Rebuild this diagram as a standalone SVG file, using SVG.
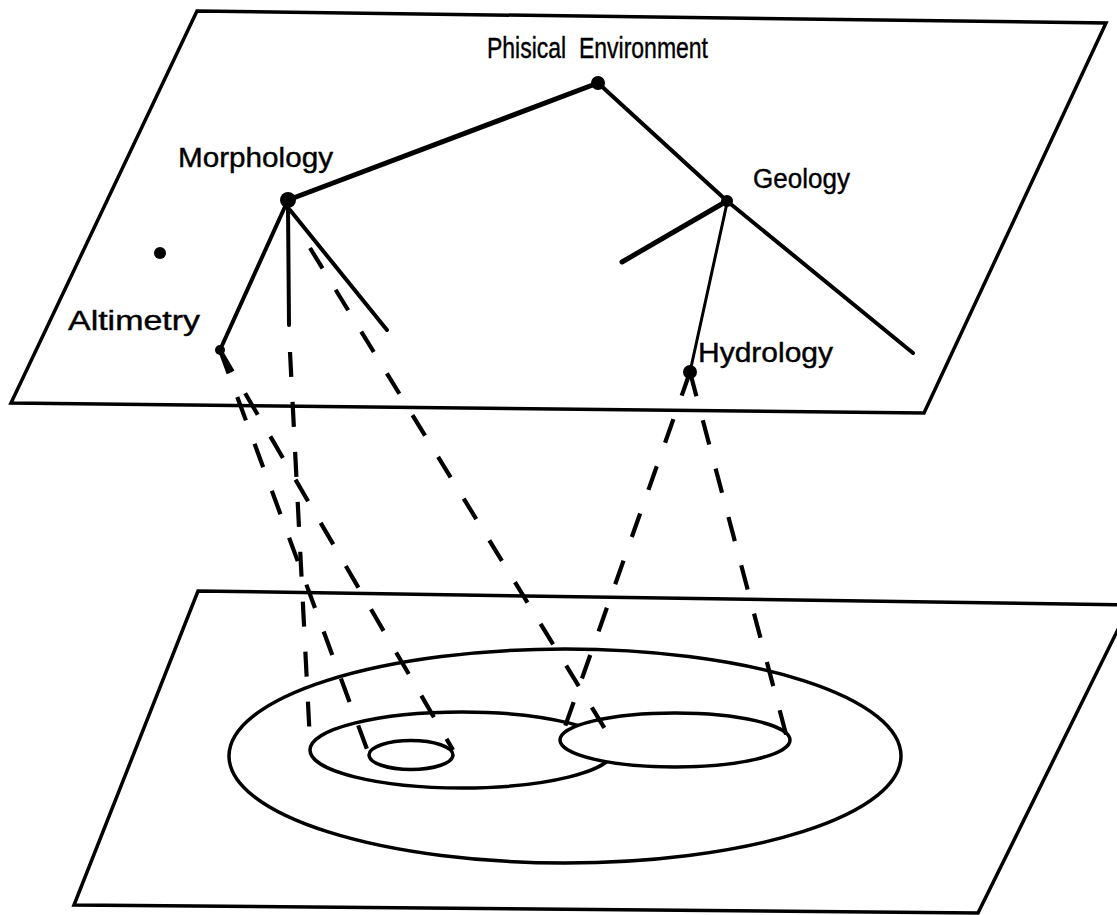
<svg xmlns="http://www.w3.org/2000/svg" width="1117" height="915" viewBox="0 0 1117 915">
<style>
.plane{fill:none;stroke:#000;stroke-width:3.5;stroke-linejoin:miter}
.ell{fill:none;stroke:#000;stroke-width:3.5}
.edge{fill:none;stroke:#000;stroke-width:4;stroke-linecap:round;stroke-linejoin:round}
.dash{fill:none;stroke:#000;stroke-width:4.2;stroke-dasharray:25 25}
.lbl{font-family:"Liberation Sans",Arial,Helvetica,sans-serif;font-size:27px;fill:#000;stroke:#000;stroke-width:0.4}
.dot{fill:#000}
</style>
<rect width="1117" height="915" fill="#fff"/>
<g id="top-plane"><polygon class="plane" points="197,11 1106,23 924,413 11,403"/></g>
<g id="bottom-plane"><polygon class="plane" points="198,591 1130,605 978,913 74,905"/></g>
<g id="regions">
<ellipse id="outer-region" class="ell" cx="565" cy="756" rx="336" ry="107"/>
<ellipse id="morphology-region" class="ell" cx="462" cy="750" rx="152" ry="38"/>
<ellipse id="altimetry-region" class="ell" cx="411" cy="755" rx="42" ry="14.5"/>
<ellipse id="hydrology-region" class="ell" cx="675" cy="740" rx="115" ry="27" style="fill:#fff"/>
</g>
<g id="connectors">
<path class="edge" style="stroke-width:5" d="M598,83 L288,200"/>
<path class="edge" d="M598,83 L727,201 L913,353"/>
<path class="edge" style="stroke-width:5" d="M727,201 L622,262"/>
<path class="edge" style="stroke-width:3" d="M727,203 L690,372"/>
<path class="edge" d="M288,200 L220,350"/>
<path class="edge" d="M288,205 L289,325"/>
<path class="edge" d="M290,210 L387,330"/>
<path class="dash" d="M220,350 L368,752"/>
<path class="dash" d="M220,350 L453,750"/>
<path class="dash" d="M290,352 L310,742"/>
<path class="dash" style="stroke-dasharray:24 25" d="M310,248 L613,742"/>
<path class="dash" d="M690,372 L561,738"/>
<path class="dash" d="M690,372 L787,738"/>
</g>
<g id="node-physical-environment"><circle class="dot" cx="598" cy="83" r="7"/><text class="lbl" x="487" y="58" style="font-size:29px" textLength="221" lengthAdjust="spacingAndGlyphs" xml:space="preserve">Phisical  Environment</text></g>
<g id="node-morphology"><circle class="dot" cx="288" cy="200" r="8"/><text class="lbl" x="178" y="167" textLength="155" lengthAdjust="spacingAndGlyphs">Morphology</text></g>
<g id="node-geology"><circle class="dot" cx="727" cy="201" r="6"/><text class="lbl" x="753" y="188" textLength="97" lengthAdjust="spacingAndGlyphs">Geology</text></g>
<g id="node-altimetry"><circle class="dot" cx="220" cy="350" r="5"/><text class="lbl" x="68" y="330" textLength="132" lengthAdjust="spacingAndGlyphs">Altimetry</text></g>
<g id="node-hydrology"><circle class="dot" cx="690" cy="372" r="7"/><text class="lbl" x="698" y="362" textLength="135" lengthAdjust="spacingAndGlyphs">Hydrology</text></g>
<g id="node-unlabelled"><circle class="dot" cx="160" cy="253" r="6"/></g>
</svg>
